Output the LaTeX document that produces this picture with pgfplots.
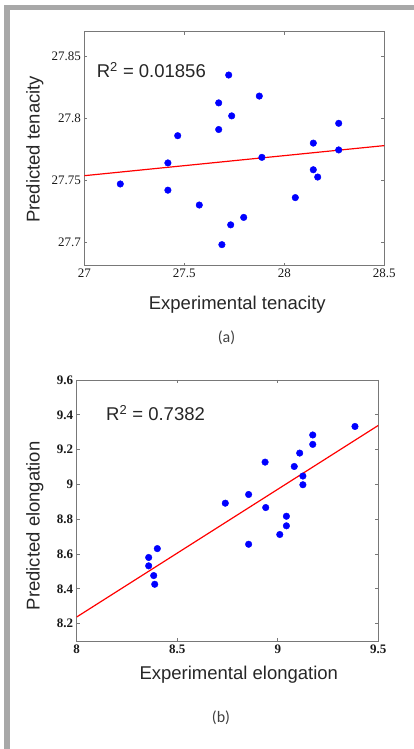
\documentclass[border=0pt]{standalone}
\usepackage{fontspec}
\setmainfont{Liberation Serif}
\newfontfamily\arial{Liberation Sans}
\newfontfamily\calibri{Carlito}
\usepackage{pgfplots}
\pgfplotsset{compat=1.18}
\definecolor{framegray}{RGB}{168,168,168}
\definecolor{axgray}{RGB}{120,120,120}
\pgfplotsset{
  myaxis/.style={
    anchor=south west, scale only axis,
    tick align=inside, major tick length=3pt,
    axis line style={axgray, line width=0.9pt},
    every tick/.style={axgray, line width=0.8pt},
    /pgf/number format/assume math mode=true,
    ticklabel style={font=\fontsize{13}{13}\selectfont, text=black!90},
    label style={font=\arial\fontsize{18.5}{20}\selectfont, text=black!85},
    clip=true,
  },
  dots/.style={only marks, mark=*, mark size=3.3pt, color=blue, mark options={fill=blue, draw=blue}},
  fit/.style={red, line width=1.2pt, no marks},
}
\begin{document}
\begin{tikzpicture}[x=1pt,y=1pt]
\useasboundingbox (0,0) rectangle (414,749);
\fill[framegray] (4,0) rectangle (10,744);
\fill[framegray] (4,739) rectangle (414,744);

% (a)
\begin{axis}[myaxis,
  at={(84.3pt,483.3pt)}, width=300pt, height=234pt,
  xmin=27, xmax=28.5, ymin=27.681, ymax=27.870,
  xtick={27,27.5,28,28.5}, ytick={27.7,27.75,27.8,27.85},
  xlabel={Experimental tenacity}, ylabel={Predicted tenacity},
  xlabel style={at={(axis description cs:0.51,0)}, anchor=base, yshift=-44.3pt},
  ylabel style={at={(axis description cs:-0.149,0.497)}, anchor=base, rotate=0},
]
\addplot[fit] coordinates {(27,27.7537) (28.5,27.778)};
\addplot[dots] coordinates {
(27.18,27.747) (27.418,27.764) (27.418,27.742) (27.467,27.786) (27.575,27.730)
(27.672,27.8125) (27.672,27.791) (27.722,27.835) (27.737,27.802) (27.732,27.714)
(27.688,27.698) (27.797,27.720) (27.875,27.818) (27.888,27.7685) (28.055,27.736)
(28.145,27.780) (28.145,27.7585) (28.167,27.7526) (28.272,27.796) (28.272,27.7745)
};
\node[anchor=base west, inner sep=0, font=\arial\fontsize{18.5}{20}\selectfont, text=black!85] at (rel axis cs:0.041,0.805) {R\textsuperscript{2} = 0.01856};
\end{axis}
\node[anchor=base, font=\calibri\fontsize{16}{17}\selectfont, text=black!75] at (226.5,406) {(a)};

% (b)
\begin{axis}[myaxis,
  at={(76.7pt,108pt)}, width=301.6pt, height=261pt,
  xmin=8, xmax=9.5, ymin=8.1, ymax=9.6,
  xtick={8,8.5,9,9.5}, ytick={8.2,8.4,8.6,8.8,9,9.2,9.4,9.6},
  ticklabel style={font=\bfseries\fontsize{13}{13}\selectfont},
  xlabel={Experimental elongation}, ylabel={Predicted elongation},
  xlabel style={at={(axis description cs:0.5375,0)}, anchor=base, yshift=-39pt},
  ylabel style={at={(axis description cs:-0.123,0.441)}, anchor=base, rotate=0},
]
\addplot[fit] coordinates {(8,8.238) (9.5,9.339)};
\addplot[dots] coordinates {
(8.358,8.580) (8.358,8.532) (8.383,8.476) (8.388,8.426) (8.401,8.631)
(8.739,8.892) (8.855,8.942) (8.855,8.656) (8.937,9.128) (8.940,8.867)
(9.010,8.712) (9.043,8.762) (9.043,8.817) (9.082,9.103) (9.109,9.180)
(9.125,9.048) (9.125,8.998) (9.174,9.230) (9.174,9.284) (9.384,9.333)
};
\node[anchor=base west, inner sep=0, font=\arial\fontsize{18.5}{20}\selectfont, text=black!85] at (rel axis cs:0.097,0.843) {R\textsuperscript{2} = 0.7382};
\end{axis}
\node[anchor=base, font=\calibri\fontsize{16}{17}\selectfont, text=black!75] at (221,26) {(b)};
\end{tikzpicture}
\end{document}
